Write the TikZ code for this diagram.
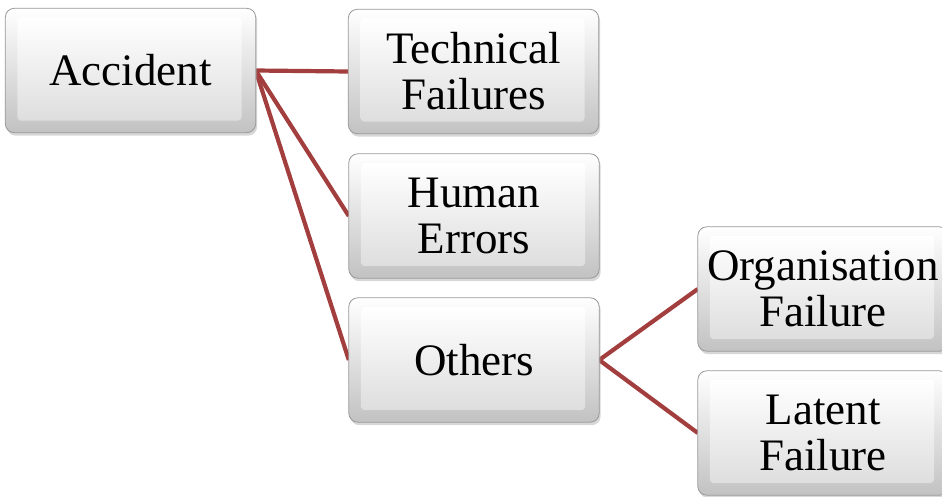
\documentclass[tikz,border=0pt]{standalone}
\usepackage{fontspec}
\setmainfont{Liberation Serif}
\usetikzlibrary{backgrounds}
\definecolor{conn}{RGB}{163,62,62}
\newcommand\keycap[1]{%
  \fill[black!35, opacity=.45, rounded corners=9pt] ([shift={(1.5,3)}]#1.north west) rectangle ([shift={(1.5,3)}]#1.south east);
  \path[top color=white, bottom color=black!24, draw=black!40, line width=0.8pt, rounded corners=9pt] (#1.north west) rectangle (#1.south east);
  \path[top color=white, bottom color=black!13, rounded corners=4pt] ([shift={(12,9)}]#1.north west) rectangle ([shift={(-14,-12)}]#1.south east);
}
\begin{document}
\begin{tikzpicture}[x=1pt,y=-1pt,
  box/.style={minimum width=250pt, minimum height=124pt, inner sep=0pt, align=center, font=\fontsize{45}{46}\selectfont},
  link/.style={draw=conn, line width=4.2pt}]
\useasboundingbox (0,0) rectangle (942,496);
\node[box] (acc) at (130.5,70.5) {Accident};
\node[box] (tech) at (473.5,71.5) {Technical\\Failures};
\node[box] (hum) at (474,216) {Human\\Errors};
\node[box] (oth) at (474,360) {Others};
\node[box] (org) at (823,289) {Organisation\\Failure};
\node[box] (lat) at (823,433) {Latent\\Failure};
\begin{scope}[on background layer]
  \draw[link] (acc.east) -- (tech.west);
  \draw[link] (acc.east) -- (hum.west);
  \draw[link] (acc.east) -- (oth.west);
  \draw[link] (oth.east) -- (org.west);
  \draw[link] (oth.east) -- (lat.west);
  \foreach \n in {acc,tech,hum,oth,org,lat}{\keycap{\n}}
\end{scope}
\end{tikzpicture}
\end{document}
